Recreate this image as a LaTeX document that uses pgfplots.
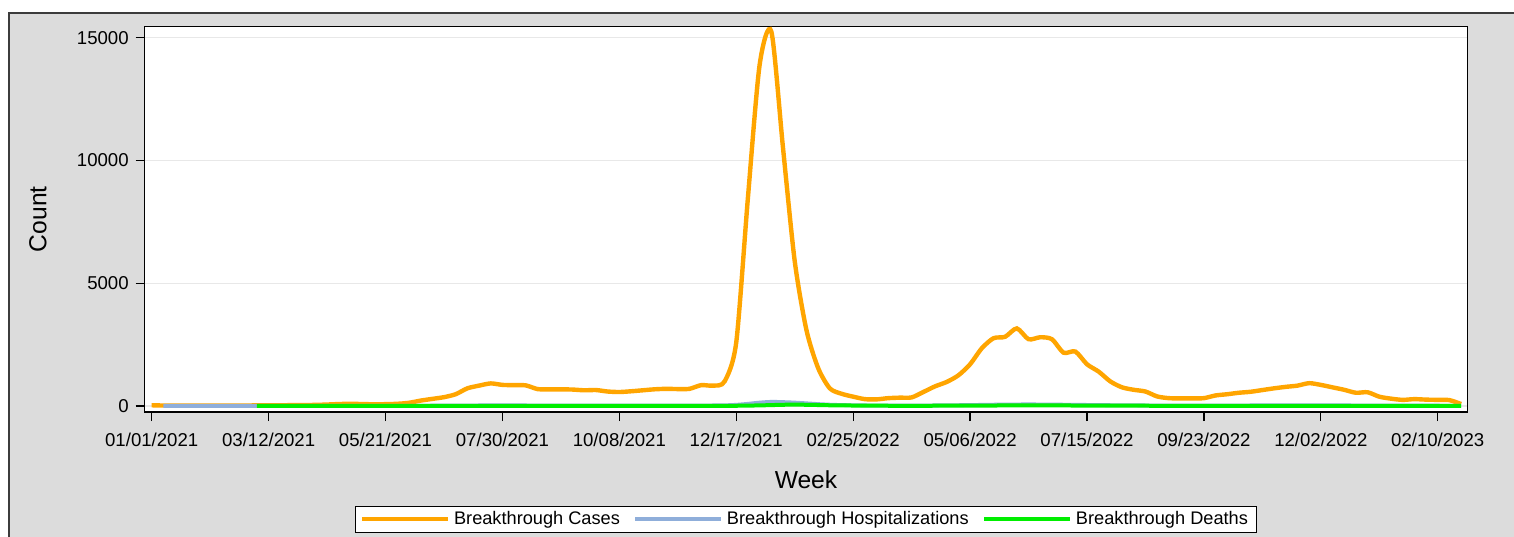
\documentclass[border=0pt]{standalone}
\usepackage{fontspec}
\setmainfont{Liberation Sans}
\usepackage{pgfplots}
\pgfplotsset{compat=1.18}
\definecolor{bgray}{RGB}{220,220,220}
\definecolor{corange}{RGB}{255,165,0}
\definecolor{cblue}{RGB}{143,174,218}
\definecolor{cgreen}{RGB}{0,238,0}
\definecolor{gridc}{RGB}{232,232,232}
\definecolor{framec}{RGB}{60,60,60}
\begin{document}
\begin{tikzpicture}
\path[use as bounding box] (0pt,0pt) rectangle (757pt,268pt);
\fill[bgray] (4.5pt,-3pt) rectangle (760pt,261.5pt);
\draw[framec, line width=0.8pt] (4.5pt,-3pt) -- (4.5pt,261.5pt) -- (760pt,261.5pt);
\begin{axis}[
  at={(72.35pt,62pt)}, anchor=south west,
  scale only axis, width=661.3pt, height=192.75pt,
  xmin=-0.599, xmax=112.53, ymin=-244, ymax=15456,
  axis background/.style={fill=white},
  axis line style={black, line width=0.7pt},
  tick align=outside, major tick length=4.5pt,
  tick style={black, line width=0.6pt},
  xtick pos=left, ytick pos=left,
  xtick={0,10,...,110},
  xticklabels={01/01/2021,03/12/2021,05/21/2021,07/30/2021,10/08/2021,12/17/2021,02/25/2022,05/06/2022,07/15/2022,09/23/2022,12/02/2022,02/10/2023},
  ytick={0,5000,10000,15000},
  scaled y ticks=false,
  /pgf/number format/assume math mode=true,
  yticklabel style={/pgf/number format/.cd, fixed, 1000 sep={}},
  xticklabel style={yshift=-2.5pt},
  ymajorgrids, grid style={gridc, line width=0.6pt},
  ticklabel style={font=\fontsize{9.3}{11}\selectfont},
  xlabel={Week}, ylabel={Count},
  label style={font=\fontsize{12.3}{14}\selectfont},
  x label style={at={(axis description cs:0.5,-0.176)}, anchor=center},
  y label style={at={(axis description cs:-0.0807,0.5)}, anchor=center, rotate=0},
  legend columns=3,
  legend style={at={(0.5,-0.278)}, anchor=center, draw=black, line width=0.5pt, fill=white,
    font=\fontsize{9.1}{10}\selectfont, inner xsep=2.5pt, inner ysep=0.5pt,
    /tikz/every even column/.append style={column sep=4.8pt}},
  legend image code/.code={\draw[#1] (0pt,0pt) -- (42.8pt,0pt);},
]
\addplot[corange, line width=2.2pt, smooth, tension=0.45] coordinates {
(0,30)(1,20)(2,15)(3,15)(4,15)(5,15)(6,15)(7,20)(8,20)(9,25)
(10,25)(11,30)(12,35)(13,40)(14,45)(15,60)(16,80)(17,90)(18,80)(19,70)
(20,75)(21,90)(22,130)(23,220)(24,290)(25,360)(26,480)(27,720)(28,830)(29,920)
(30,860)(31,850)(32,840)(33,690)(34,680)(35,680)(36,670)(37,640)(38,650)(39,590)
(40,570)(41,600)(42,640)(43,680)(44,700)(45,690)(46,700)(47,850)(48,830)(49,1000)
(50,2600)(51,8500)(52,13900)(53,15250)(54,10500)(55,5900)(56,3100)(57,1550)(58,720)(59,500)
(60,380)(61,280)(62,270)(63,320)(64,340)(65,350)(66,570)(67,800)(68,980)(69,1250)
(70,1700)(71,2350)(72,2760)(73,2820)(74,3160)(75,2720)(76,2800)(77,2720)(78,2170)(79,2220)
(80,1700)(81,1400)(82,1000)(83,760)(84,660)(85,590)(86,390)(87,320)(88,310)(89,310)
(90,320)(91,430)(92,480)(93,540)(94,580)(95,650)(96,720)(97,780)(98,830)(99,930)
(100,860)(101,760)(102,660)(103,540)(104,560)(105,380)(106,300)(107,250)(108,280)(109,260)
(110,250)(111,240)(112,80)
};
\addlegendentry{Breakthrough Cases}
\addplot[cblue, line width=1.9pt, smooth, tension=0.45] coordinates {
(1,5)(2,5)(3,5)(4,5)(5,5)(6,5)(7,5)(8,5)(9,5)
(10,5)(12,6)(14,8)(16,10)(18,10)(20,10)(22,12)(24,15)(26,20)(28,25)
(30,28)(32,25)(34,22)(36,22)(38,22)(40,20)(42,22)(44,22)(46,22)(48,25)
(49,30)(50,50)(51,90)(52,140)(53,170)(54,160)(55,140)(56,110)(57,80)(58,55)
(59,40)(60,30)(62,22)(64,20)(66,22)(68,30)(70,40)(72,55)(74,65)(76,65)
(78,55)(80,45)(82,35)(84,28)(86,22)(88,20)(90,20)(92,22)(94,25)(96,28)
(98,30)(100,30)(102,26)(104,22)(106,18)(108,16)(110,15)(112,10)
};
\addlegendentry{Breakthrough Hospitalizations}
\addplot[cgreen, line width=2pt, smooth, tension=0.45] coordinates {
(9,5)(10,5)(12,5)(14,5)(16,5)(18,5)(20,5)(22,5)(24,6)(26,8)
(28,10)(30,10)(32,10)(34,10)(36,10)(38,9)(40,8)(42,8)(44,8)(46,8)
(48,8)(50,10)(52,25)(54,50)(55,55)(56,50)(57,40)(58,30)(60,20)(62,12)
(64,10)(66,10)(68,12)(70,15)(72,20)(74,25)(76,25)(78,22)(80,18)(82,14)
(84,12)(86,10)(88,9)(90,8)(92,8)(94,8)(96,9)(98,10)(100,10)(102,9)
(104,8)(106,7)(108,6)(110,6)(112,5)
};
\addlegendentry{Breakthrough Deaths}
\end{axis}
\end{tikzpicture}
\end{document}
